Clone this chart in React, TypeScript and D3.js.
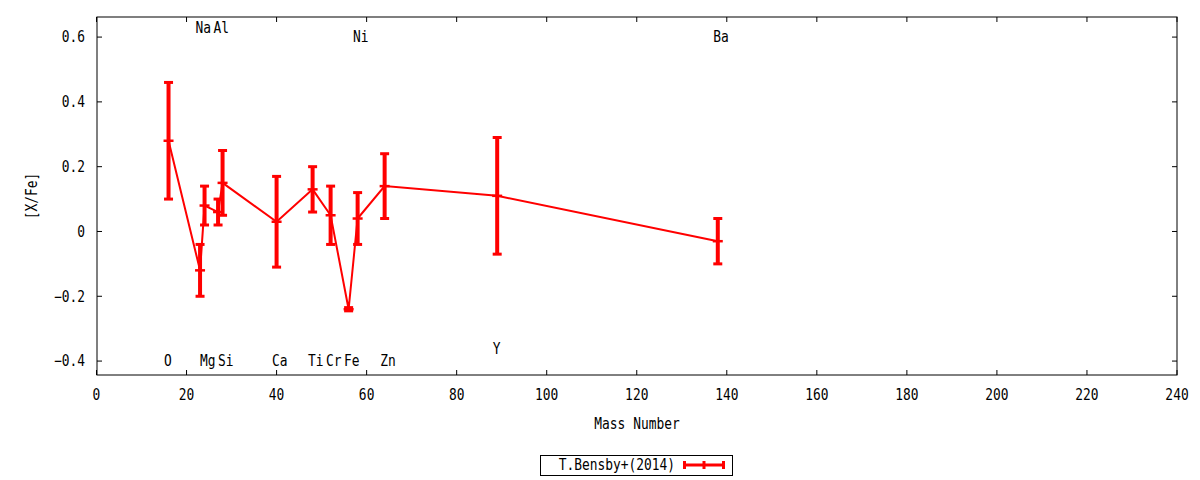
import { useMemo } from "react";
import * as d3 from "d3";

const WIDTH = 1200;
const HEIGHT = 480;
const MARGIN = { top: 17, right: 23, bottom: 105, left: 97 };
const FONT = "'DejaVu Sans Mono', monospace";
const RED = "#ff0000";

// T.Bensby+(2014) abundances
const elements = ["O", "Na", "Mg", "Al", "Si", "Ca", "Ti", "Cr", "Fe", "Ni", "Zn", "Y", "Ba"];
const massNumbers = [16, 23, 24, 27, 28, 40, 48, 52, 56, 58, 64, 89, 138];
const xFe = [0.28, -0.12, 0.08, 0.06, 0.15, 0.03, 0.13, 0.05, -0.24, 0.04, 0.14, 0.11, -0.03];
const xFeErr = [0.18, 0.08, 0.06, 0.04, 0.1, 0.14, 0.07, 0.09, 0.005, 0.08, 0.1, 0.18, 0.07];

// element name labels: position in [X/Fe] where the name is written
const labelY = [-0.4, 0.63, -0.4, 0.63, -0.4, -0.4, -0.4, -0.4, -0.4, 0.6, -0.4, -0.36, 0.6];

const xTicks = [0, 20, 40, 60, 80, 100, 120, 140, 160, 180, 200, 220, 240];
const yTicks = [-0.4, -0.2, 0, 0.2, 0.4, 0.6];

// gnuplot's font is narrow and tall: squeeze a larger mono font horizontally
const Label = ({
  x,
  y,
  anchor = "start",
  rotate = 0,
  children,
}: {
  x: number;
  y: number;
  anchor?: "start" | "middle" | "end";
  rotate?: number;
  children: React.ReactNode;
}) => (
  <text
    transform={`translate(${x},${y}) rotate(${rotate}) scale(0.86,1)`}
    textAnchor={anchor}
    dy="0.36em"
    fill="#000"
  >
    {children}
  </text>
);

const Chart = () => {
  const boundsWidth = WIDTH - MARGIN.left - MARGIN.right;
  const boundsHeight = HEIGHT - MARGIN.top - MARGIN.bottom;

  const xScale = useMemo(
    () => d3.scaleLinear().domain([0, 240]).range([-0.5, boundsWidth]),
    [boundsWidth]
  );
  const yScale = useMemo(
    () => d3.scaleLinear().domain([-0.443, 0.662]).range([boundsHeight, 0]),
    [boundsHeight]
  );

  const points = massNumbers.map((m, i) => ({
    m,
    v: xFe[i],
    e: xFeErr[i],
    name: elements[i],
    ly: labelY[i],
  }));

  const line = d3
    .line<{ m: number; v: number }>()
    .x((d) => xScale(d.m))
    .y((d) => yScale(d.v));

  const fmt = (t: number) => (t === 0 ? "0" : d3.format(".1f")(t));

  return (
    <svg
      width={WIDTH}
      height={HEIGHT}
      style={{ position: "absolute", left: 0, top: 0, background: "#fff" }}
      fontFamily={FONT}
      fontSize={15}
    >
      <g transform={`translate(${MARGIN.left},${MARGIN.top})`}>
        {/* ticks, mirrored on all sides */}
        {xTicks.map((t) => (
          <g key={"x" + t}>
            <line x1={xScale(t)} x2={xScale(t)} y1={boundsHeight} y2={boundsHeight - 5} stroke="#000" />
            <line x1={xScale(t)} x2={xScale(t)} y1={0} y2={5} stroke="#000" />
            <Label x={xScale(t)} y={boundsHeight + 20} anchor="middle">
              {t}
            </Label>
          </g>
        ))}
        {yTicks.map((t) => (
          <g key={"y" + t}>
            <line x1={0} x2={5} y1={yScale(t)} y2={yScale(t)} stroke="#000" />
            <line x1={boundsWidth} x2={boundsWidth - 5} y1={yScale(t)} y2={yScale(t)} stroke="#000" />
            <Label x={-12} y={yScale(t)} anchor="end">
              {fmt(t)}
            </Label>
          </g>
        ))}

        {/* element labels */}
        {points.map((d) => (
          <Label key={"l" + d.name} x={xScale(d.m - 1)} y={yScale(d.ly)}>
            {d.name}
          </Label>
        ))}

        {/* series */}
        <path d={line(points) ?? ""} fill="none" stroke={RED} strokeWidth={2} />
        {points.map((d) => {
          const x = xScale(d.m);
          const y0 = yScale(d.v - d.e);
          const y1 = yScale(d.v + d.e);
          return (
            <g key={"e" + d.name} stroke={RED}>
              <line x1={x} x2={x} y1={y0} y2={y1} strokeWidth={4} />
              <line x1={x - 4.5} x2={x + 4.5} y1={y0} y2={y0} strokeWidth={3} />
              <line x1={x - 4.5} x2={x + 4.5} y1={y1} y2={y1} strokeWidth={3} />
              <line x1={x - 5} x2={x + 5} y1={yScale(d.v)} y2={yScale(d.v)} strokeWidth={2.5} />
            </g>
          );
        })}

        <rect x={0} y={0} width={boundsWidth} height={boundsHeight} fill="none" stroke="#000" strokeWidth={1} />

        {/* axis titles */}
        <Label x={boundsWidth / 2} y={boundsHeight + 49} anchor="middle">
          Mass Number
        </Label>
        <Label x={32 - MARGIN.left} y={boundsHeight / 2} anchor="middle" rotate={-90}>
          [X/Fe]
        </Label>
      </g>

      {/* legend */}
      <g>
        <rect x={540.5} y={455.5} width={192} height={20} fill="#fff" stroke="#000" strokeWidth={1} />
        <Label x={675} y={465} anchor="end">
          T.Bensby+(2014)
        </Label>
        <g stroke={RED}>
          <line x1={683} x2={725} y1={465} y2={465} strokeWidth={3} />
          <line x1={684.5} x2={684.5} y1={461} y2={469} strokeWidth={3} />
          <line x1={723.5} x2={723.5} y1={461} y2={469} strokeWidth={3} />
          <line x1={704} x2={704} y1={461} y2={469} strokeWidth={3} />
        </g>
      </g>
    </svg>
  );
};

export default function App() {
  return <Chart />;
}
